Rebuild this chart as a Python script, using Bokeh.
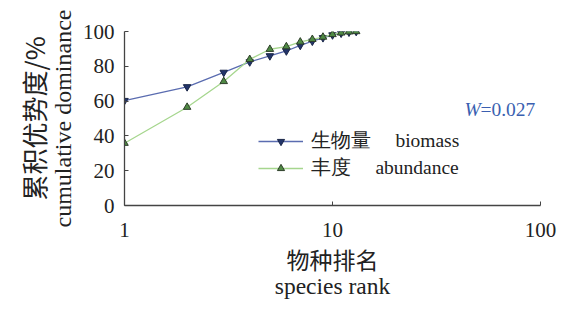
from bokeh.plotting import figure
from bokeh.models import LogAxis, LinearAxis, Label, Legend, LegendItem, FixedTicker, Range1d
from bokeh.embed import file_html
from bokeh.resources import INLINE

rank = [1, 2, 3, 4, 5, 6, 7, 8, 9, 10, 11, 12, 13]
biomass = [60.3, 68.2, 76.5, 82.5, 86.0, 88.8, 92.0, 94.4, 96.4, 98.0, 99.0, 99.6, 100.0]
abundance = [35.8, 56.5, 71.3, 84.0, 89.8, 91.3, 94.0, 95.5, 96.8, 98.3, 99.2, 99.8, 100.0]
x_ticks = [1, 10, 100]
y_ticks = [0, 20, 40, 60, 80, 100]
legend_labels = ["生物量     biomass", "丰度     abundance"]

SERIF = "Liberation Serif"
CJK = "Noto Sans CJK SC"
AX = "#444444"
TXT = "#222222"

p = figure(width=558, height=307, x_axis_type="log", output_backend="svg",
           toolbar_location=None, x_range=Range1d(1, 100), y_range=Range1d(0, 100),
           min_border_left=124, min_border_right=18, min_border_top=31, min_border_bottom=102)
p.outline_line_color = None
p.grid.visible = False
p.background_fill_color = "white"

for ax in (p.xaxis[0], p.yaxis[0]):
    ax.axis_line_color = AX
    ax.axis_line_width = 1.3
    ax.major_tick_line_color = AX
    ax.major_tick_in = 4
    ax.major_tick_out = 0
    ax.minor_tick_line_color = None
    ax.major_label_text_font = SERIF
    ax.major_label_text_font_size = "21px"
    ax.major_label_text_color = TXT
    ax.axis_label_text_font_style = "normal"
    ax.axis_label_text_color = TXT

p.xaxis[0].ticker = FixedTicker(ticks=x_ticks)
p.xaxis[0].major_label_overrides = {1: "1", 10: "10", 100: "100"}
p.xaxis[0].major_label_standoff = 17
p.xaxis[0].axis_label = "物种排名"
p.xaxis[0].axis_label_text_font = CJK
p.xaxis[0].axis_label_text_font_size = "23px"
p.xaxis[0].axis_label_standoff = 2

p.yaxis[0].ticker = FixedTicker(ticks=y_ticks)
p.yaxis[0].major_label_standoff = 10
p.yaxis[0].axis_label = "cumulative dominance"
p.yaxis[0].axis_label_text_font = SERIF
p.yaxis[0].axis_label_text_font_size = "24px"
p.yaxis[0].axis_label_standoff = 4

x2 = LogAxis(axis_label="species rank", axis_line_color=None, major_tick_line_color=None,
             minor_tick_line_color=None, major_label_text_font_size="0px",
             ticker=FixedTicker(ticks=[]), axis_label_text_font=SERIF,
             axis_label_text_font_size="23.5px", axis_label_text_font_style="normal",
             axis_label_text_color=TXT, axis_label_standoff=-6)
p.add_layout(x2, "below")
y2 = LinearAxis(axis_label="累积优势度/%", axis_line_color=None, major_tick_line_color=None,
                minor_tick_line_color=None, major_label_text_font_size="0px",
                ticker=FixedTicker(ticks=[]), axis_label_text_font=CJK,
                axis_label_text_font_size="26px", axis_label_text_font_style="normal",
                axis_label_text_color=TXT, axis_label_standoff=-5)
p.add_layout(y2, "left")

bl = p.line(rank, biomass, line_color="#5a6cb0", line_width=1.3)
bm = p.scatter(rank, biomass, marker="inverted_triangle", size=7.5,
               fill_color="#22346a", line_color="#1a2648")
al = p.line(rank, abundance, line_color="#a6d68e", line_width=1.3)
am = p.scatter(rank, abundance, marker="triangle", size=7.5,
               fill_color="#4f8a44", line_color="#2e3e2a")

legend = Legend(items=[LegendItem(label=legend_labels[0], renderers=[bl, bm]),
                       LegendItem(label=legend_labels[1], renderers=[al, am])],
                location=(134, 24), label_text_font=SERIF, label_text_font_size="19.5px",
                label_text_color=TXT, glyph_width=45, glyph_height=18, label_height=18,
                spacing=0, padding=2, margin=0,
                background_fill_alpha=0, border_line_color=None, label_standoff=8)
p.add_layout(legend, "center")

p.add_layout(Label(x=340, y=96, x_units="screen", y_units="screen", text="W",
                   text_font=SERIF, text_font_style="italic", text_font_size="19.5px",
                   text_color="#3a5fb0", text_baseline="middle"))
p.add_layout(Label(x=356, y=96, x_units="screen", y_units="screen", text="=0.027",
                   text_font=SERIF, text_font_size="19.5px",
                   text_color="#3a5fb0", text_baseline="middle"))

open("out.html", "w").write(file_html(p, INLINE))
